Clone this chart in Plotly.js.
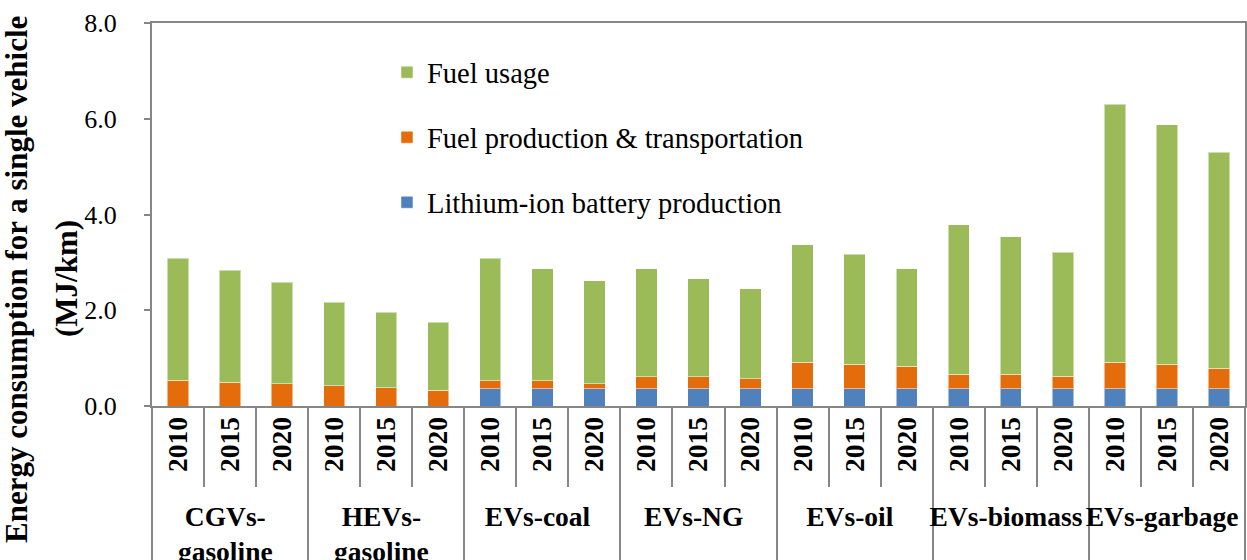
<!DOCTYPE html>
<html>
<head>
<meta charset="utf-8">
<script src="https://cdn.plot.ly/plotly-3.0.1.min.js"></script>
<style>
  html, body { margin: 0; padding: 0; background: #fff; }
  #chart { width: 1247px; height: 560px; }
</style>
</head>
<body>
<div id="chart"></div>
<script>
// ---- Data ----
var groups = ['CGVs-<br>gasoline', 'HEVs-<br>gasoline', 'EVs-coal', 'EVs-NG', 'EVs-oil', 'EVs-biomass', 'EVs-garbage'];
var years = ['2010', '2015', '2020'];

var batteryProduction = [0, 0, 0, 0, 0, 0,
  0.36, 0.36, 0.36, 0.36, 0.36, 0.36, 0.36, 0.36, 0.36, 0.36, 0.36, 0.36, 0.36, 0.36, 0.36];
var fuelProduction = [0.54, 0.50, 0.46, 0.42, 0.38, 0.33,
  0.17, 0.17, 0.11, 0.25, 0.25, 0.21, 0.55, 0.51, 0.47, 0.30, 0.30, 0.26, 0.55, 0.51, 0.43];
var fuelUsage = [2.55, 2.34, 2.13, 1.75, 1.58, 1.42,
  2.56, 2.34, 2.15, 2.26, 2.05, 1.88, 2.46, 2.30, 2.04, 3.13, 2.88, 2.59, 5.39, 5.01, 4.51];

var seriesNames = ['Lithium-ion battery production', 'Fuel production & transportation', 'Fuel usage'];
var yTicks = [0, 2, 4, 6, 8];
var yTitleLines = ['Energy consumption for a single vehicle', '(MJ/km)'];

// ---- Build multicategory x ----
var xOuter = [], xInner = [];
groups.forEach(function (g) { years.forEach(function (y) { xOuter.push(g); xInner.push(y); }); });
var xCats = [xOuter, xInner];

var colors = ['#4F81BD', '#E46C0A', '#9BBB59'];
var values = [batteryProduction, fuelProduction, fuelUsage];

var traces = values.map(function (v, i) {
  return {
    type: 'bar',
    name: seriesNames[i],
    x: xCats,
    y: v,
    legendgroup: 'g' + i,
    legendrank: 3 - i,
    marker: { color: colors[i], line: { color: 'rgba(255,255,255,0.5)', width: 1 } },
    hoverinfo: 'skip'
  };
});

var gray = '#868686';
var W = 1247, H = 560, ML = 152, MR = 2, MT = 23, MB = 154;
var pw = W - ML - MR, ph = H - MT - MB;
function px2x(p) { return (p - ML) / pw; }
function px2y(p) { return (H - MB - p) / ph; }

var titleFont = { family: 'Liberation Serif', size: 31, color: '#000', weight: 'bold' };

var layout = {
  width: W,
  height: H,
  margin: { l: ML, r: MR, t: MT, b: MB },
  paper_bgcolor: '#fff',
  plot_bgcolor: '#fff',
  barmode: 'stack',
  bargap: 0.59,
  showlegend: true,
  legend: {
    x: 0.215, y: 0.937, xanchor: 'left', yanchor: 'top',
    bgcolor: 'rgba(0,0,0,0)',
    traceorder: 'grouped',
    tracegroupgap: 25,
    font: { family: 'Liberation Serif', size: 28.5, color: '#000' }
  },
  xaxis: {
    type: 'multicategory',
    showline: true, linecolor: gray, linewidth: 2, mirror: true,
    ticks: 'outside', tickson: 'boundaries', ticklen: 79, tickcolor: gray, tickwidth: 2,
    tickangle: -90,
    ticklabelstandoff: -2,
    showdividers: true, dividercolor: gray, dividerwidth: 2,
    tickfont: { family: 'Liberation Serif', size: 27.5, color: '#000', weight: 'bold' },
    showgrid: false, zeroline: false
  },
  yaxis: {
    range: [0, 8],
    tickvals: yTicks,
    tickformat: '.1f',
    showline: true, linecolor: gray, linewidth: 2, mirror: true,
    ticks: 'outside', ticklen: 6, tickcolor: gray, tickwidth: 2,
    ticklabelstandoff: 22,
    showgrid: false, zeroline: false,
    tickfont: { family: 'Liberation Serif', size: 26, color: '#000' }
  },
  annotations: [{
    text: yTitleLines[0],
    xref: 'paper', yref: 'paper',
    x: px2x(16), y: px2y(280),
    xanchor: 'center', yanchor: 'middle',
    textangle: -90, showarrow: false,
    font: titleFont
  }, {
    text: yTitleLines[1],
    xref: 'paper', yref: 'paper',
    x: px2x(66), y: px2y(279),
    xanchor: 'center', yanchor: 'middle',
    textangle: -90, showarrow: false,
    font: titleFont
  }]
};

Plotly.newPlot('chart', traces, layout, { displayModeBar: false, staticPlot: true });
</script>
</body>
</html>
